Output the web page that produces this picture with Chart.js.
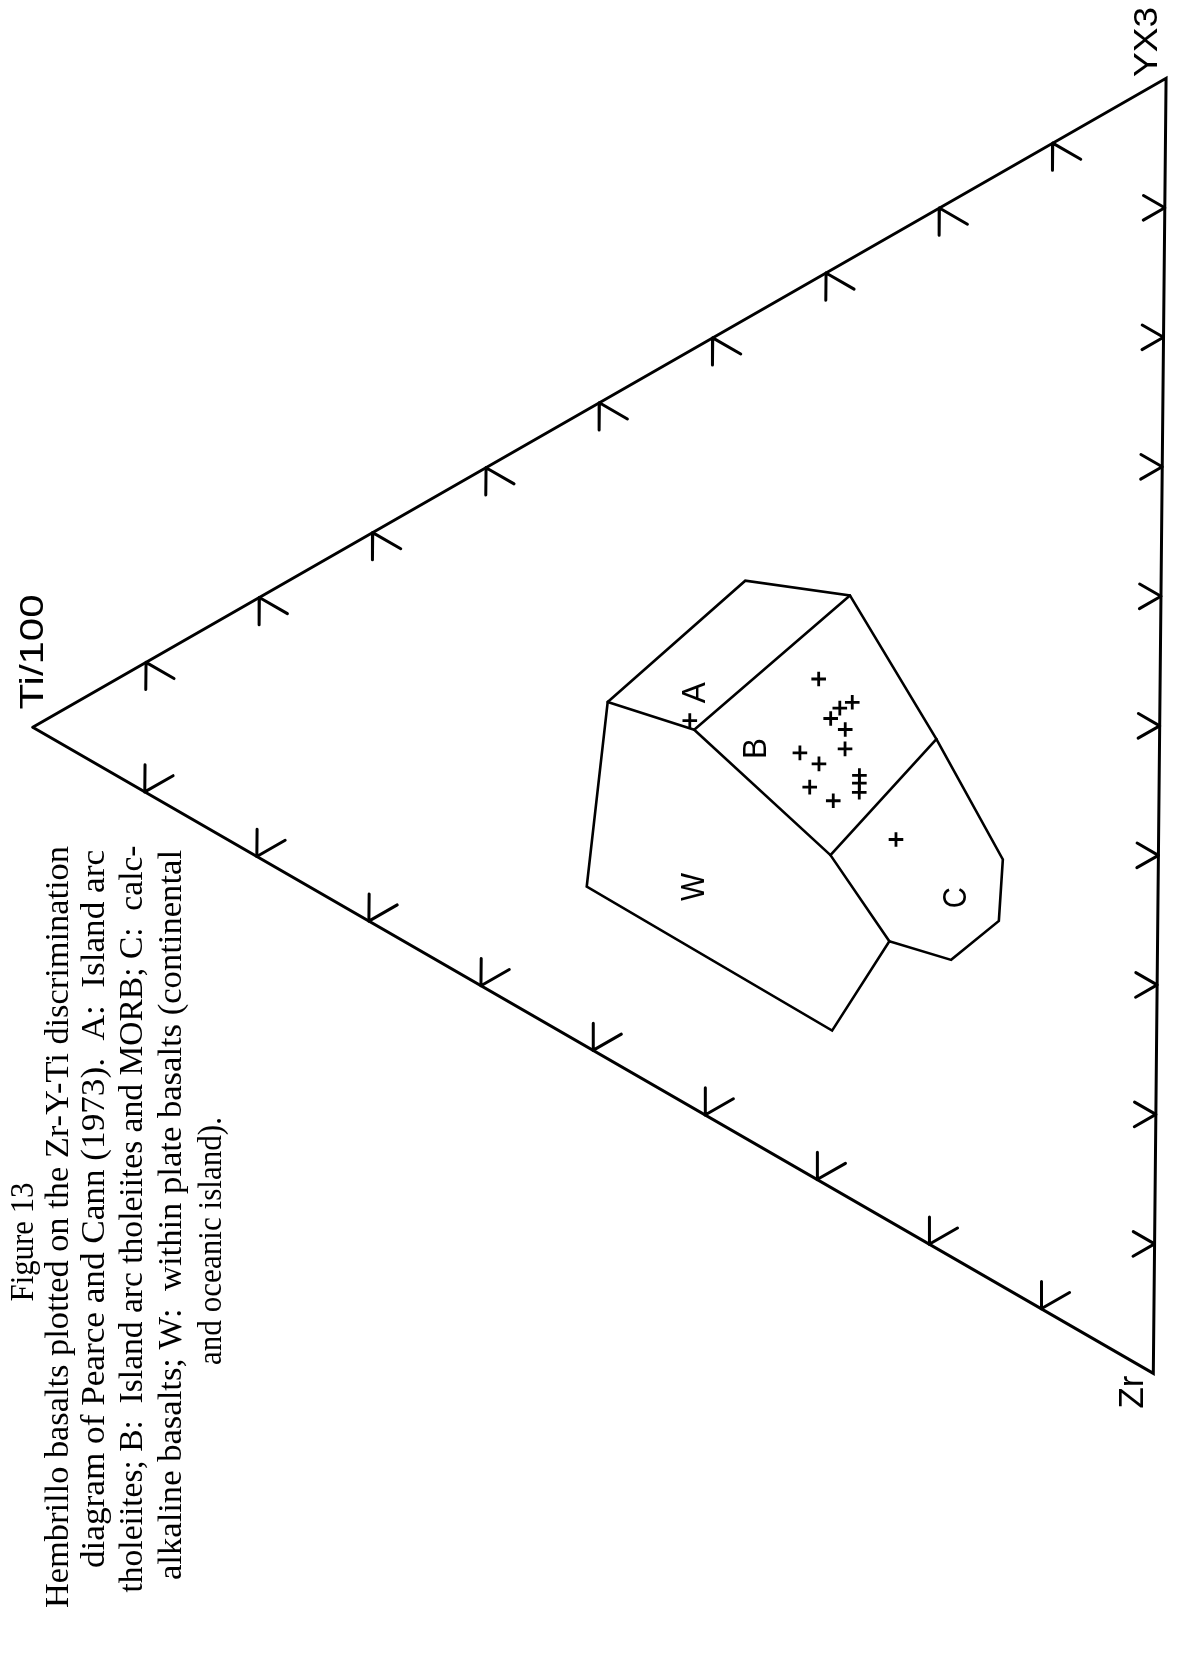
<!DOCTYPE html>
<html>
<head>
<meta charset="utf-8">
<title>Zr-Y-Ti discrimination diagram</title>
<script src="https://cdn.jsdelivr.net/npm/chart.js@4/dist/chart.umd.min.js"></script>
<style>
  html, body { margin: 0; padding: 0; background: #fff; }
  #wrap { width: 1186px; height: 1669px; position: relative; }
</style>
</head>
<body>
<div id="wrap"><canvas id="c" width="1186" height="1669"></canvas></div>
<script>
// ---- data ---------------------------------------------------------------
// Ternary tick values (percent) along every side of the triangle
const tickValues = [10, 20, 30, 40, 50, 60, 70, 80, 90];

// Apex names
const apexNames = ['Ti/100', 'Zr', 'YX3'];

// Field boundary vertices, each [Ti/100, Zr, Y*3] in percent
const fieldOutline = [
  [49.0, 23.6, 27.4],
  [36.9, 20.3, 42.8],
  [27.6, 26.1, 46.3],
  [19.8, 41.1, 39.1],
  [13.8, 53.4, 32.8],
  [14.1, 58.0, 27.9],
  [18.3, 58.9, 22.8],
  [23.8, 54.7, 21.5],
  [28.8, 59.1, 12.1],
  [50.7, 37.0, 12.3],
  [49.0, 23.6, 27.4]
];
const boundaryAW = [[49.0, 23.6, 27.4], [41.3, 29.6, 29.1]];
const boundaryAB = [[41.3, 29.6, 29.1], [27.6, 26.1, 46.3]];
const boundaryBW = [[41.3, 29.6, 29.1], [29.1, 45.4, 25.5]];
const boundaryBC = [[29.1, 45.4, 25.5], [19.8, 41.1, 39.1]];
const boundaryCW = [[29.1, 45.4, 25.5], [23.8, 54.7, 21.5]];

// Field names
const fieldNames = ['A', 'B', 'C', 'W'];

// Hembrillo basalt samples (percent of Ti/100 + Zr + Y*3)
const sampleTi = [30.3, 27.3, 28.4, 29.2, 27.9, 27.9, 31.9, 30.2, 31.0, 28.9, 26.6, 26.6, 26.6, 23.3, 41.7];
const sampleZr = [31.2, 34.5, 34.4, 34.8, 36.3, 37.8, 36.1, 37.8, 39.2, 41.3, 40.5, 41.1, 41.8, 47.1, 28.7];
const sampleY  = [38.5, 38.2, 37.2, 36.0, 35.8, 34.3, 32.0, 32.0, 29.8, 29.8, 32.9, 32.3, 31.6, 29.6, 29.6];

// Caption lines
const captionLines = [
  'Figure 13',
  'Hembrillo basalts plotted on the Zr-Y-Ti discrimination',
  'diagram of Pearce and Cann (1973).  A:  Island arc',
  'tholeiites; B:  Island arc tholeiites and MORB; C:  calc-',
  'alkaline basalts; W:  within plate basalts (continental',
  'and oceanic island).'
];

// ---- layout -------------------------------------------------------------
// Page-space position of each apex (the page is printed sideways)
const apexTi = { x: 23,   y: 726 };
const apexY  = { x: 1176, y: 69 };
const apexZr = { x: 1163, y: 1380 };

// Ternary composition -> page coordinates fed to the linear scales
function tern(ti, zr, y) {
  const s = ti + zr + y;
  return {
    x: (ti * apexTi.x + zr * apexZr.x + y * apexY.x) / s,
    y: (ti * apexTi.y + zr * apexZr.y + y * apexY.y) / s
  };
}
const toPts = arr => arr.map(v => tern(v[0], v[1], v[2]));

// Tick segments: on each side two short strokes parallel to the other sides
const TICK_V = 2.1, TICK_D = 2.5, TICK_R = 1.9;
const tickPts = [];
tickValues.forEach(t => {
  // Ti - Y side (Zr = 0)
  const ty = t, tti = 100 - t;
  tickPts.push(tern(tti, 0, ty), tern(tti, TICK_V, ty - TICK_V), { x: null, y: null });
  tickPts.push(tern(tti, 0, ty), tern(tti - TICK_D, TICK_D, ty), { x: null, y: null });
  // Ti - Zr side (Y = 0)
  const bz = t, bti = 100 - t;
  tickPts.push(tern(bti, bz, 0), tern(bti, bz - TICK_V, TICK_V), { x: null, y: null });
  tickPts.push(tern(bti, bz, 0), tern(bti - TICK_D, bz, TICK_D), { x: null, y: null });
  // Y - Zr side (Ti = 0)
  const rz = t, ry = 100 - t;
  tickPts.push(tern(0, rz, ry), tern(TICK_R, rz, ry - TICK_R), { x: null, y: null });
  tickPts.push(tern(0, rz, ry), tern(TICK_R, rz - TICK_R, ry), { x: null, y: null });
});

const samplePts = sampleTi.map((ti, i) => tern(ti, sampleZr[i], sampleY[i]));

const lineSet = (data, width) => ({
  data, showLine: true, spanGaps: false, pointRadius: 0,
  borderColor: '#000', borderWidth: width, fill: false, tension: 0,
  borderCapStyle: 'round', borderJoinStyle: 'miter'
});

// Text drawn sideways (reading upward), stretched to a given length
function sideText(ctx, str, baseX, centerY, font, len) {
  ctx.save();
  ctx.translate(baseX, centerY);
  ctx.rotate(-Math.PI / 2);
  ctx.font = font;
  ctx.fillStyle = '#000';
  ctx.textAlign = 'center';
  ctx.textBaseline = 'alphabetic';
  if (len) {
    const w = ctx.measureText(str).width;
    ctx.scale(len / w, 1);
  }
  ctx.fillText(str, 0, 0);
  ctx.restore();
}

const SANS = '"Liberation Sans", "DejaVu Sans", sans-serif';
const SERIF = '"Liberation Serif", "DejaVu Serif", serif';

// Field label centres as compositions
const fieldLabelAt = {
  A: [41.4, 26.7, 31.9],
  B: [36.0, 33.7, 30.3],
  C: [18.1, 54.2, 27.7],
  W: [41.4, 41.7, 16.9]
};

const labelPlugin = {
  id: 'ternaryText',
  afterDraw(chart) {
    const ctx = chart.ctx;
    const xs = chart.scales.x, ys = chart.scales.y;
    const px = p => ({ x: xs.getPixelForValue(p.x), y: ys.getPixelForValue(p.y) });

    // apex names
    sideText(ctx, apexNames[0], 43, 652, '34px ' + SANS, 115);
    sideText(ctx, apexNames[1], 1143, 1392, '35px ' + SANS, 33);
    sideText(ctx, apexNames[2], 1157, 42, '34px ' + SANS, 70);

    // field names
    fieldNames.forEach(n => {
      const c = fieldLabelAt[n];
      const p = px(tern(c[0], c[1], c[2]));
      sideText(ctx, n, p.x + 12, p.y, '34px ' + SANS, n === 'W' ? 28 : 21);
    });

    // caption
    const base = [33, 68, 104, 142, 181, 221];
    const mid  = [1242, 1227, 1209, 1219, 1215, 1241];
    const len  = [119, 762, 718, 747, 730, 248];
    captionLines.forEach((s, i) => {
      sideText(ctx, s, base[i], mid[i], '34px ' + SERIF, len[i]);
    });
  }
};

new Chart(document.getElementById('c'), {
  type: 'scatter',
  data: {
    datasets: [
      lineSet([tern(100, 0, 0), tern(0, 0, 100), tern(0, 100, 0), tern(100, 0, 0)], 3),
      lineSet(tickPts, 3),
      lineSet(toPts(fieldOutline), 2.6),
      lineSet(toPts(boundaryAW), 2.6),
      lineSet(toPts(boundaryAB), 2.6),
      lineSet(toPts(boundaryBW), 2.6),
      lineSet(toPts(boundaryBC), 2.6),
      lineSet(toPts(boundaryCW), 2.6),
      {
        data: samplePts, showLine: false, pointStyle: 'cross',
        pointRadius: 7.3, pointBorderWidth: 2.8, borderColor: '#000',
        backgroundColor: '#000', pointHoverRadius: 7.3
      }
    ]
  },
  options: {
    responsive: false,
    animation: false,
    events: [],
    layout: { padding: 0 },
    scales: {
      x: { type: 'linear', min: 0, max: 1186, display: false },
      y: { type: 'linear', min: 0, max: 1669, reverse: true, display: false }
    },
    plugins: { legend: { display: false }, tooltip: { enabled: false } }
  },
  plugins: [labelPlugin]
});
</script>
</body>
</html>
